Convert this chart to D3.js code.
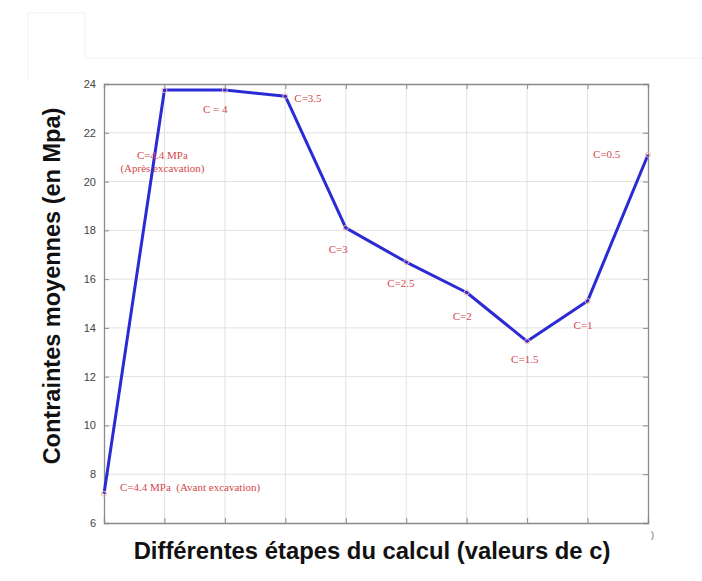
<!DOCTYPE html>
<html><head><meta charset="utf-8">
<script src="https://cdn.jsdelivr.net/npm/d3@7/dist/d3.min.js"></script>
<style>body{margin:0;background:#fff}svg{display:block}</style>
</head><body>
<script>
// ---- data ----
const steps = [0,1,2,3,4,5,6,7,8,9];
const values = [7.2, 23.75, 23.75, 23.5, 18.1, 16.7, 15.45, 13.45, 15.1, 21.1];
const labels = ["C=4.4 MPa  (Avant excavation)", "C=4.4 MPa", "C = 4", "C=3.5", "C=3", "C=2.5", "C=2", "C=1.5", "C=1", "C=0.5"];
const subLabel = "(Après excavation)";
const yTicks = [6,8,10,12,14,16,18,20,22,24];
const xTitle = "Différentes étapes du calcul (valeurs de c)";
const yTitle = "Contraintes moyennes (en Mpa)";

(function () {
// ---- layout ----
const W = 702, H = 581;
const mL = 104, mR = 648, mT = 84, mB = 523;
const svg = d3.select("body").append("svg").attr("width", W).attr("height", H);

const x = d3.scaleLinear().domain([0, 9]).range([mL, mR]);
const y = d3.scaleLinear().domain([6, 24]).range([mB, mT]);

// faint frame artefacts
const faint = svg.append("g").attr("stroke", "#f1f1f1").attr("fill", "none");
faint.append("path").attr("d", "M28,13H85V58H702");
faint.append("path").attr("d", "M28,13V80");

// grid
const grid = svg.append("g").attr("stroke", "#e2e2e2").attr("stroke-width", 1);
grid.selectAll(".gx").data(steps.slice(1, -1)).join("line")
  .attr("x1", d => x(d)).attr("x2", d => x(d)).attr("y1", mT).attr("y2", mB);
grid.selectAll(".gy").data(yTicks.slice(1, -1)).join("line")
  .attr("x1", mL).attr("x2", mR).attr("y1", d => y(d)).attr("y2", d => y(d));

// axes (MATLAB style, inward ticks, boxed)
const axL = svg.append("g").attr("transform", `translate(${mL},0)`)
  .call(d3.axisLeft(y).tickValues(yTicks).tickSize(-5).tickPadding(8));
const axR = svg.append("g").attr("transform", `translate(${mR},0)`)
  .call(d3.axisRight(y).tickValues(yTicks).tickSize(-5).tickFormat(""));
const axB = svg.append("g").attr("transform", `translate(0,${mB})`)
  .call(d3.axisBottom(x).tickValues(steps).tickSize(-5).tickFormat(""));
const axT = svg.append("g").attr("transform", `translate(0,${mT})`)
  .call(d3.axisTop(x).tickValues(steps).tickSize(-5).tickFormat(""));
[axL, axR, axB, axT].forEach(g => {
  g.select(".domain").attr("stroke", "#8a8a8a").attr("stroke-width", 1.3);
  g.selectAll(".tick line").attr("stroke", "#8a8a8a");
});
axL.selectAll(".tick text").attr("font-family", "Liberation Sans, Arial, sans-serif")
  .attr("font-size", 11).attr("fill", "#444");

// line
const line = d3.line().x((d, i) => x(steps[i])).y(d => y(d));
svg.append("path").datum(values).attr("d", line)
  .attr("fill", "none").attr("stroke", "#2b2bd6").attr("stroke-width", 3)
  .attr("stroke-linejoin", "round");

// markers
svg.selectAll(".mk").data(values).join("circle")
  .attr("cx", (d, i) => x(steps[i])).attr("cy", d => y(d)).attr("r", 2.5)
  .attr("fill", "none").attr("stroke", "#eeb8a8").attr("stroke-width", 1);

// annotation offsets relative to each point (layout only)
const offs = [[16,-3,"start"],[-2,69,"middle"],[-22,23,"start"],[9,6,"start"],[-17,25,"start"],
              [-19,25,"start"],[-14,27,"start"],[-16,22,"start"],[-14,28,"start"],[-55,3,"start"]];
const red = "#d4484a";
const ann = svg.append("g").attr("font-family", "Liberation Serif, Times New Roman, serif")
  .attr("font-size", 11).attr("fill", red);
labels.forEach((t, i) => {
  ann.append("text").attr("x", x(steps[i]) + offs[i][0]).attr("y", y(values[i]) + offs[i][1])
    .attr("text-anchor", offs[i][2]).style("white-space", "pre").text(t);
});
ann.append("text").attr("x", x(1) - 2).attr("y", y(values[1]) + 82)
  .attr("text-anchor", "middle").text(subLabel);

// titles
const xt = svg.append("text").attr("x", (mL + mR) / 2 - 4).attr("y", 559)
  .attr("text-anchor", "middle").attr("font-family", "Liberation Sans, Arial, sans-serif")
  .attr("font-weight", "bold").attr("font-size", 20).attr("fill", "#111").text(xTitle);
const yt = svg.append("text").attr("transform", "translate(60,286) rotate(-90)")
  .attr("text-anchor", "middle").attr("font-family", "Liberation Sans, Arial, sans-serif")
  .attr("font-weight", "bold").attr("font-size", 20).attr("fill", "#111").text(yTitle);
function fit(sel, target) {
  const w = sel.node().getComputedTextLength();
  sel.attr("font-size", 20 * target / w);
}
fit(xt, 477);
fit(yt, 357);

svg.append("text").attr("x", 651).attr("y", 538).attr("font-family", "Liberation Sans, Arial, sans-serif")
  .attr("font-size", 9).attr("fill", "#666").text(")");
})();
</script>
</body></html>
